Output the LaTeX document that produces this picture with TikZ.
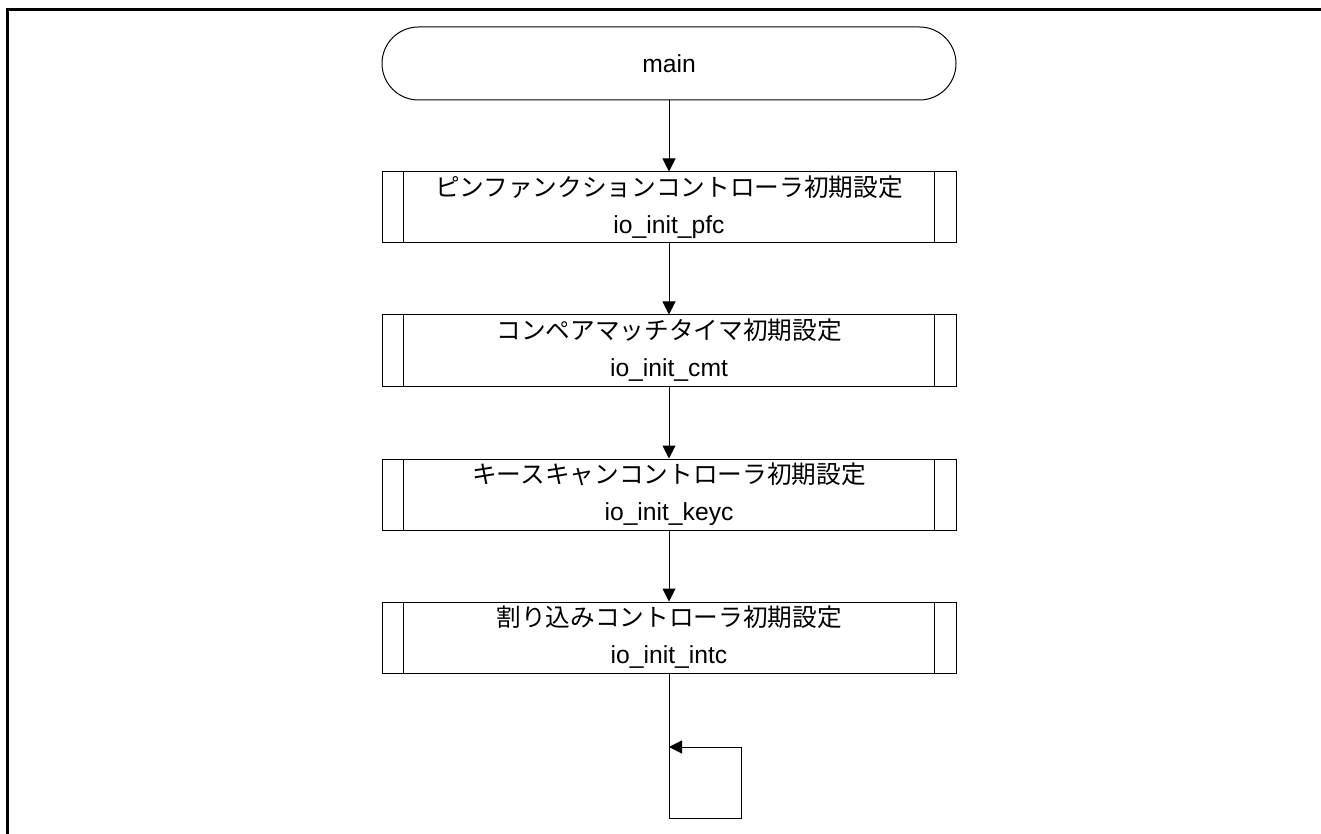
\documentclass[tikz,border=0pt]{standalone}
\usepackage{fontspec}
\setmainfont{Liberation Sans}
\newfontfamily\cjk{Noto Sans CJK JP}
\usetikzlibrary{arrows.meta}
\begin{document}
\begin{tikzpicture}[x=0.75pt,y=-0.75pt,
  term/.style={draw, line width=0.75pt, rounded corners=27.375pt, minimum width=430.5pt, minimum height=54.75pt, inner sep=0pt, font=\fontsize{18.5}{22}\selectfont},
  proc/.style={draw, line width=0.75pt, minimum width=430.5pt, minimum height=53.25pt, inner sep=0pt, align=center, font=\fontsize{18.5}{27.75}\selectfont},
  conn/.style={line width=0.75pt, -{Triangle[length=9.75pt,width=9.75pt]}},
  plain/.style={line width=0.75pt},
  frame/.style={line width=2.25pt}]
\useasboundingbox (0,0) rectangle (1321,834);
\coordinate (fb) at (7.5,850);
\coordinate (fc) at (7.5,10);
\coordinate (fr) at (1340,10);
\draw[frame] (fb) -- (fc) -- (fr);

\node[term] (start) at (669,63.5) {main};
\node[proc] (b1) at (669,207.5) {{\cjk ピンファンクションコントローラ初期設定}\\io\_init\_pfc};
\node[proc] (b2) at (669,350.5) {{\cjk コンペアマッチタイマ初期設定}\\io\_init\_cmt};
\node[proc] (b3) at (669,494.5) {{\cjk キースキャンコントローラ初期設定}\\io\_init\_keyc};
\node[proc] (b4) at (669,637.5) {{\cjk 割り込みコントローラ初期設定}\\io\_init\_intc};

\foreach \b in {b1,b2,b3,b4} {
  \draw[plain] ([xshift=16.5pt]\b.north west) -- ([xshift=16.5pt]\b.south west);
  \draw[plain] ([xshift=-16.5pt]\b.north east) -- ([xshift=-16.5pt]\b.south east);
}

\draw[conn] (start) -- (b1);
\draw[conn] (b1) -- (b2);
\draw[conn] (b2) -- (b3);
\draw[conn] (b3) -- (b4);

\coordinate (lb) at (669,818);
\coordinate (lr) at (741,818);
\coordinate (lt) at (741,747);
\coordinate (lj) at (669,747);
\draw[conn] (b4.south) -- (lb) -- (lr) -- (lt) -- (lj);
\end{tikzpicture}
\end{document}
